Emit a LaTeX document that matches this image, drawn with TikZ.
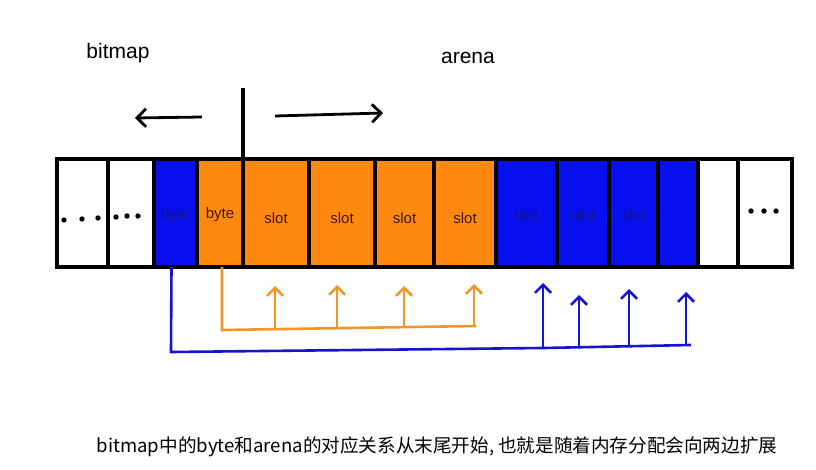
\documentclass[tikz,border=0pt]{standalone}
\usepackage{fontspec}
\setmainfont{Liberation Sans}
\newfontfamily\cjk{Noto Sans CJK SC}
\usetikzlibrary{arrows.meta,calc}
\definecolor{cellblue}{RGB}{8,16,240}
\definecolor{cellorange}{RGB}{255,136,16}
\definecolor{lineorange}{RGB}{240,150,40}
\definecolor{lineblue}{RGB}{20,20,210}
\definecolor{bluetext}{RGB}{20,20,130}
\definecolor{orangetext}{RGB}{60,25,5}
\newcommand{\lowtxt}[1]{\raisebox{-5pt}{#1}}
\begin{document}
\begin{tikzpicture}[x=1pt,y=-1pt,
  cell/.style={draw=black,line width=4pt,minimum height=108pt,inner sep=0pt,outer sep=0pt,anchor=north west,text height=11pt,text depth=0pt,font=\fontsize{15}{15}\selectfont},
  bcell/.style={cell,fill=cellblue,text=bluetext},
  ocell/.style={cell,fill=cellorange,text=orangetext},
  wcell/.style={cell,fill=white},
  dotmark/.style={fill=black},
  otip/.style={-{Straight Barb[length=8pt,width=16pt,line width=2.6pt]}},
  oline/.style={draw=lineorange,line width=2.6pt},
  bline/.style={draw=lineblue,line width=2.6pt},
  toparrow/.style={line width=2.8pt,-{Straight Barb[length=9pt,width=18pt]}},
  lbl/.style={font=\fontsize{21}{21}\selectfont}]
\useasboundingbox[fill=white] (0,0) rectangle (816,470);
% cells
\node[wcell,minimum width=51pt] (c1) at (57,159) {};
\node[wcell,minimum width=46pt] (c2) at (108,159) {};
\node[bcell,minimum width=43pt] (c3) at (154,159) {\raisebox{-1pt}{byte}};
\node[ocell,minimum width=46pt] (c4) at (197,159) {byte};
\node[ocell,minimum width=66pt] (c5) at (243,159) {\lowtxt{slot}};
\node[ocell,minimum width=66pt] (c6) at (309,159) {\lowtxt{slot}};
\node[ocell,minimum width=59pt] (c7) at (375,159) {\lowtxt{slot}};
\node[ocell,minimum width=62pt] (c8) at (434,159) {\lowtxt{slot}};
\node[bcell,minimum width=61pt] (c9) at (496,159) {\raisebox{-2pt}{slot}};
\node[bcell,minimum width=52pt] (c10) at (557,159) {\raisebox{-2pt}{slot}};
\node[bcell,minimum width=49pt] (c11) at (609,159) {\raisebox{-2pt}{slot}};
\node[bcell,minimum width=40pt] (c12) at (658,159) {};
\node[wcell,minimum width=40pt] (c13) at (698,159) {};
\node[wcell,minimum width=54pt] (c14) at (738,159) {};
% dots
\foreach \x/\y in {64/220,82/219,98/218,116/217,127/216,138/216,751/211,764/211,776/211}
  \fill[dotmark] (\x,\y) circle (2.7pt);
% divider and direction arrows
\coordinate (bartop) at (243,88);
\draw[line width=4pt] (bartop) -- (c5.south west);
\coordinate (la1) at (202,117);
\coordinate (la2) at (135,118);
\coordinate (ra1) at (275,116);
\coordinate (ra2) at (383,113);
\draw[toparrow] (la1) -- (la2);
\draw[toparrow] (ra1) -- (ra2);
\node[lbl] (bm) at (118,53) {bitmap};
\node[lbl] (ar) at (468,58) {arena};
% orange mapping
\coordinate (oc) at (222,330);
\coordinate (oe) at (476,326);
\draw[oline] ([xshift=2pt]c4.south) -- (oc) -- (oe);
\foreach \x/\t/\b in {275/286/328, 337/285/327, 404/286/326, 474/284/326}
  \draw[oline,otip] (\x,\b) -- (\x,\t);
% blue mapping
\coordinate (bc) at (171,352);
\coordinate (bj) at (543,348);
\coordinate (be) at (691,345);
\draw[bline] ([xshift=-4pt]c3.south) -- (bc) -- (bj) -- (be);
\foreach \x/\t/\b in {543/283/348, 579/295/346, 629/289/346, 686/292/345}
  \draw[bline,otip] (\x,\b) -- (\x,\t);
% caption
\node[font=\cjk\fontsize{18.6}{18.6}\selectfont] (cap) at (437,447) {bitmap中的byte和arena的对应关系从末尾开始, 也就是随着内存分配会向两边扩展};
\end{tikzpicture}
\end{document}
